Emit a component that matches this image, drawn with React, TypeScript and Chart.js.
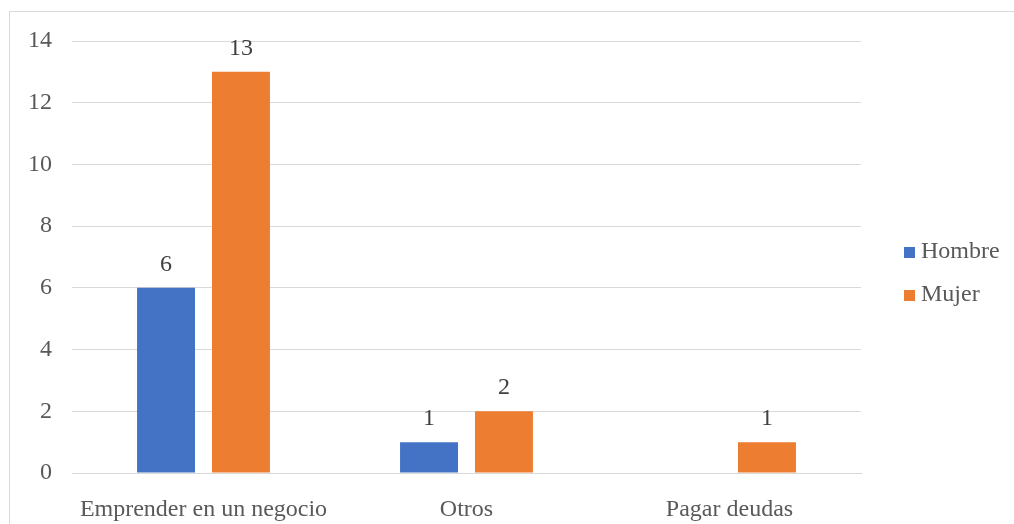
import React, { useEffect, useRef } from "react";
import { Chart, registerables } from "chart.js";

Chart.register(...registerables);

const categories = ["Emprender en un negocio", "Otros", "Pagar deudas"];
const hombre: (number | null)[] = [6, 1, null];
const mujer: (number | null)[] = [13, 2, 1];
const seriesNames = ["Hombre", "Mujer"];
const colors = ["#4472C4", "#ED7D31"];

const FONT = "'Liberation Serif', 'Times New Roman', serif";

const frame = {
  id: "frame",
  beforeDraw(chart: any) {
    const ctx = chart.ctx;
    ctx.save();
    ctx.fillStyle = "#ffffff";
    ctx.fillRect(0, 0, chart.width, chart.height);
    ctx.strokeStyle = "#D9D9D9";
    ctx.lineWidth = 1;
    ctx.strokeRect(9.5, 11.5, 1030, 540);
    ctx.restore();
  },
};

const valueLabels = {
  id: "valueLabels",
  afterDatasetsDraw(chart: any) {
    const ctx = chart.ctx;
    ctx.save();
    ctx.font = `24px ${FONT}`;
    ctx.fillStyle = "#404040";
    ctx.textAlign = "center";
    ctx.textBaseline = "alphabetic";
    chart.data.datasets.forEach((ds: any, i: number) => {
      const meta = chart.getDatasetMeta(i);
      meta.data.forEach((bar: any, j: number) => {
        const v = ds.data[j];
        if (v === null || v === undefined) return;
        ctx.fillText(String(v), bar.x, bar.y - 17);
      });
    });
    ctx.restore();
  },
};

const sideLegend = {
  id: "sideLegend",
  afterDraw(chart: any) {
    const ctx = chart.ctx;
    ctx.save();
    ctx.font = `24px ${FONT}`;
    ctx.textBaseline = "alphabetic";
    ctx.textAlign = "left";
    chart.data.datasets.forEach((ds: any, i: number) => {
      const base = 258 + i * 43;
      ctx.fillStyle = ds.backgroundColor;
      ctx.fillRect(904, base - 11, 11, 11);
      ctx.fillStyle = "#595959";
      ctx.fillText(ds.label, 921, base);
    });
    ctx.restore();
  },
};

export default function App() {
  const ref = useRef<HTMLCanvasElement>(null);
  useEffect(() => {
    if (!ref.current) return;
    const chart = new Chart(ref.current, {
      type: "bar",
      data: {
        labels: categories,
        datasets: [
          { label: seriesNames[0], data: hombre, backgroundColor: colors[0] },
          { label: seriesNames[1], data: mujer, backgroundColor: colors[1] },
        ],
      },
      options: {
        animation: false,
        responsive: false,
        maintainAspectRatio: false,
        devicePixelRatio: 1,
        layout: { padding: { left: 10, right: 153, top: 41, bottom: 0 } },
        datasets: {
          bar: { categoryPercentage: 0.57, barPercentage: 0.773 },
        },
        plugins: {
          legend: { display: false },
          tooltip: { enabled: false },
        },
        scales: {
          x: {
            grid: { display: false },
            border: { display: true, color: "#D9D9D9", width: 1 },
            ticks: {
              color: "#595959",
              font: { family: FONT, size: 24 },
              padding: 14,
              maxRotation: 0,
              autoSkip: false,
            },
            afterFit(scale: any) {
              scale.height = 51;
            },
          },
          y: {
            min: 0,
            max: 14,
            grid: { color: "#D9D9D9", lineWidth: 1, drawTicks: false },
            border: { display: false },
            ticks: {
              stepSize: 2,
              color: "#595959",
              font: { family: FONT, size: 24 },
              padding: 20,
            },
            afterFit(scale: any) {
              scale.width = 62;
            },
          },
        },
      },
      plugins: [frame, valueLabels, sideLegend],
    });
    return () => chart.destroy();
  }, []);
  return (
    <div style={{ position: "fixed", left: 0, top: 0, width: 1014, height: 524 }}>
      <canvas ref={ref} width={1014} height={524} style={{ display: "block" }} />
    </div>
  );
}
